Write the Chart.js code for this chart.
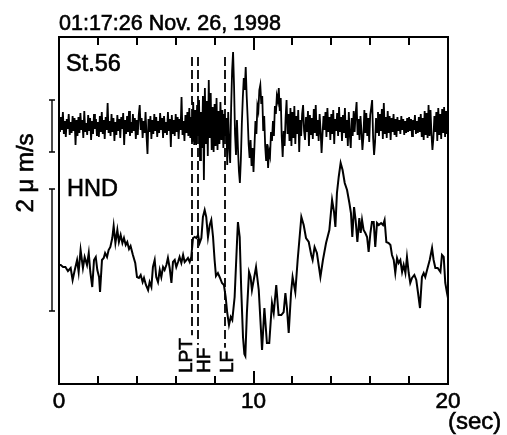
<!DOCTYPE html>
<html>
<head>
<meta charset="utf-8">
<script src="https://cdn.jsdelivr.net/npm/chart.js@4.4.0/dist/chart.umd.min.js"></script>
<style>
  html, body { margin: 0; padding: 0; background: #fff; }
  #wrap { width: 507px; height: 435px; }
</style>
</head>
<body>
<div id="wrap"><canvas id="seis"></canvas></div>
<script>
// St.56 velocity record, one sample every 0.05 s (counts, up = positive)
const st56Step = 0.05;
const st56 = [
  2,-6,9,-4,14,-8,5,-11,7,-3,12,-9,4,-7,10,-5,8,-19,6,-10,
  9,-7,13,-4,6,-12,15,-6,3,-9,11,-5,8,-14,5,-8,12,-3,7,-10,
  4,-11,10,-6,14,-8,6,-13,9,-4,23,-7,5,-10,12,-6,8,-15,4,-9,
  11,-5,7,-12,9,-3,13,-19,6,-8,10,-6,15,-10,4,-7,12,-5,8,-13,
  6,-9,11,21,-4,8,-12,5,-7,14,-10,-28,7,-6,10,-13,6,-8,12,-5,
  9,-11,5,-7,13,-4,8,-12,10,-6,4,-9,14,-5,7,-21,11,-8,6,-10,
  12,-6,9,-13,7,-4,29,-9,5,-15,11,-7,14,-10,18,-12,9,-16,24,-19,
  16,-19,21,-10,26,-34,14,-22,30,-54,38,-18,25,-30,46,-12,33,-24,19,-26,
  22,-20,28,-24,15,-18,24,-14,16,-22,12,-10,8,-39,14,-20,-37,18,55,74,
  40,-8,-29,6,-22,-45,-57,-34,2,28,48,36,59,30,8,-18,-32,-14,-40,-22,
  -46,-20,5,-8,20,15,36,41,22,30,-5,10,-20,-35,-18,-42,-25,-30,-6,-15,
  5,-10,20,12,30,25,38,15,28,-10,-31,-5,-20,8,26,-8,12,-15,18,-20,
  14,-12,20,-18,10,-8,16,-26,6,-10,12,21,-5,-14,9,-6,15,-20,11,-9,
  8,-13,17,-7,21,-10,6,-15,12,-5,-27,-8,10,-4,14,-11,18,-6,9,-14,
  12,-8,16,-18,7,-5,13,-10,19,-6,9,-15,11,-7,18,-12,6,-20,14,-9,
  -22,8,-10,15,-6,12,24,-9,7,-14,10,-5,-24,-11,16,-7,13,-10,8,-16,
  11,18,26,-12,-29,-16,8,-6,14,-10,12,-5,17,-13,23,-8,9,-12,15,-7,
  10,-14,8,-6,12,-9,7,-11,9,-5,6,-8,10,-4,7,-9,5,-7,8,-6,
  9,-5,7,-10,6,-4,11,-8,5,-7,9,-6,12,-11,8,-14,15,-9,13,-12,
  21,-10,16,-8,-24,-12,10,-6,14,-15,18,-9,12,-13,17,-7,19,-11,15,-8,
  10
];

// HND velocity record, read at these times (sec)
const hndTime = [
  0, 0.09, 0.21, 0.33, 0.46, 0.60, 0.70, 0.81, 0.93, 1.01,
  1.11, 1.23, 1.32, 1.44, 1.53, 1.61, 1.71, 1.80, 1.89, 1.97,
  2.06, 2.11, 2.21, 2.30, 2.37, 2.47, 2.55, 2.64, 2.74, 2.81,
  2.90, 3.00, 3.08, 3.17, 3.26, 3.34, 3.43, 3.51, 3.60, 3.68,
  3.80, 3.92, 4.01, 4.11, 4.20, 4.30, 4.37, 4.47, 4.58, 4.66,
  4.75, 4.83, 4.92, 5.00, 5.09, 5.18, 5.26, 5.35, 5.43, 5.52,
  5.60, 5.69, 5.78, 5.86, 5.95, 6.03, 6.12, 6.20, 6.29, 6.38,
  6.46, 6.55, 6.63, 6.72, 6.80, 6.89, 6.98, 7.06, 7.15, 7.23,
  7.32, 7.40, 7.49, 7.57, 7.66, 7.75, 7.83, 7.92, 8.00, 8.07,
  8.17, 8.28, 8.38, 8.48, 8.57, 8.65, 8.74, 8.83, 8.91, 9.03,
  9.15, 9.20, 9.29, 9.37, 9.46, 9.53, 9.58, 9.66, 9.77, 9.85,
  9.92, 10.13, 10.27, 10.44, 10.56, 10.69, 10.81, 10.95, 11.04, 11.17,
  11.29, 11.43, 11.55, 11.64, 11.72, 11.81, 11.93, 12.01, 12.15, 12.27,
  12.46, 12.58, 12.70, 12.84, 12.97, 13.04, 13.14, 13.26, 13.44, 13.57,
  13.73, 13.90, 14.04, 14.14, 14.21, 14.29, 14.38, 14.48, 14.58, 14.69,
  14.81, 14.93, 15.01, 15.08, 15.17, 15.25, 15.34, 15.44, 15.51, 15.58,
  15.66, 15.75, 15.84, 15.92, 16.01, 16.09, 16.18, 16.26, 16.35, 16.44,
  16.56, 16.66, 16.74, 16.83, 16.95, 17.04, 17.12, 17.21, 17.29, 17.38,
  17.46, 17.55, 17.64, 17.72, 17.81, 17.89, 17.98, 18.06, 18.15, 18.27,
  18.37, 18.46, 18.56, 18.66, 18.75, 18.83, 18.95, 19.06, 19.18, 19.26,
  19.35, 19.47, 19.61, 19.69, 19.78, 19.86, 19.95, 20.00
];
const hndValue = [
  3, 3, 1, 1, -3, 0, -12, -2, 8, -4,
  18, 0, 11, 3, 15, -4, -19, 8, 11, -2,
  -9, -24, 8, 10, 15, 11, 18, 21, 30, 42,
  25, 38, 26, 33, 25, 30, 23, 26, 19, 22,
  13, 5, -9, -10, -7, -14, -10, -17, -22, -14,
  -19, 1, 8, -9, -14, -2, -9, 1, -2, 3,
  10, 0, -15, 6, 8, 1, 6, 11, 5, 13,
  6, 8, 10, 6, 11, 30, 31, 30, 33, 25,
  30, 51, 58, 51, 31, 43, 48, 31, 8, -8,
  -5, -10, -15, -17, -29, -45, -57, -49, -52, -29,
  25, 46, 31, -22, -69, -86, -88, -45, -4, -9,
  -22, 1, -22, -82, -40, -75, -75, -35, -45, -17,
  -47, -47, -44, -25, -40, -65, -25, -9, -24, 8,
  51, 43, 30, 26, 13, 8, 21, 15, -9, 8,
  25, 38, 68, 56, 41, 75, 91, 105, 98, 85,
  78, 65, 55, 31, 61, 48, 26, 50, 35, 48,
  38, 35, 31, 16, 35, 46, 46, 21, 45, 43,
  45, 43, 48, 26, 25, 23, 13, 8, -5, 10,
  5, 8, -4, 3, -5, 11, -5, -15, -10, -7,
  -12, -25, -40, -9, -5, -9, 0, 8, 20, 8,
  0, 0, -4, 13, 11, -15, -25, -30
];

// phase picks (sec)
const pickNames = ["LPT", "HF", "LF"];
const pickTimes = [6.86, 7.17, 8.51];

// 2 um/s scale bars, in each trace's counts (low, high)
const st56Bar = [-26, 26];
const hndBar = [-43, 79];

// layout of the two traces on the hidden y axis
const st56Base = 258;
const hndBase = 116;
const FONT = "'Liberation Sans', Arial, sans-serif";

const st56Pts = st56.map((v, i) => ({ x: +(i * st56Step).toFixed(2), y: v + st56Base }));
const hndPts = hndTime.map((t, i) => ({ x: t, y: hndValue[i] + hndBase }));

// text with a thin outline so it reads as heavy as the scanned figure
function txt(ctx, s, x, y, size, align, rot) {
  ctx.save();
  ctx.translate(x, y);
  if (rot) ctx.rotate(rot);
  ctx.font = size + "px " + FONT;
  ctx.fillStyle = "#000";
  ctx.strokeStyle = "#000";
  ctx.lineWidth = 0.6;
  ctx.textAlign = align || "left";
  ctx.textBaseline = "alphabetic";
  ctx.fillText(s, 0, 0);
  ctx.strokeText(s, 0, 0);
  ctx.restore();
}

const decor = {
  id: "decor",
  beforeDatasetsDraw(chart) {
    const { ctx, scales: { x, y } } = chart;
    ctx.save();
    ctx.strokeStyle = "#000";
    ctx.lineWidth = 1.8;
    ctx.setLineDash([9, 4]);
    const labelOff = [0, 12, 8];
    ctx.font = "19px " + FONT;
    pickTimes.forEach((t, i) => {
      const px = Math.round(x.getPixelForValue(t));
      const labelLen = ctx.measureText(pickNames[i]).width;
      const yBottom = y.getPixelForValue(11);
      ctx.beginPath();
      ctx.moveTo(px, y.getPixelForValue(327));
      ctx.lineTo(px, yBottom - labelLen - 3);
      ctx.stroke();
    });
    ctx.restore();
    pickTimes.forEach((t, i) => {
      const px = x.getPixelForValue(t);
      txt(ctx, pickNames[i], px + labelOff[i], y.getPixelForValue(11), 19, "left", -Math.PI / 2);
    });
  },
  afterDraw(chart) {
    const { ctx, chartArea: a, scales: { x, y } } = chart;
    ctx.save();
    ctx.strokeStyle = "#000";
    ctx.lineWidth = 2;
    ctx.strokeRect(a.left, a.top, a.right - a.left, a.bottom - a.top);
    // inward ticks every 2 sec, longer at 10
    for (let t = 2; t < 20; t += 2) {
      const px = Math.round(x.getPixelForValue(t));
      const len = t % 10 === 0 ? 13 : 8;
      ctx.beginPath();
      ctx.moveTo(px, a.top); ctx.lineTo(px, a.top + len);
      ctx.moveTo(px, a.bottom); ctx.lineTo(px, a.bottom - len);
      ctx.stroke();
    }
    // scale bars
    ctx.lineWidth = 1.4;
    const bx = a.left - 7;
    [[st56Bar, st56Base], [hndBar, hndBase]].forEach(([bar, base]) => {
      const y0 = y.getPixelForValue(bar[0] + base);
      const y1 = y.getPixelForValue(bar[1] + base);
      ctx.beginPath();
      ctx.moveTo(bx, y0); ctx.lineTo(bx, y1);
      ctx.moveTo(bx - 3, y0); ctx.lineTo(bx + 3, y0);
      ctx.moveTo(bx - 3, y1); ctx.lineTo(bx + 3, y1);
      ctx.stroke();
    });
    ctx.restore();

    txt(ctx, "01:17:26 Nov. 26, 1998", a.left, 30, 21.5, "left");
    txt(ctx, "St.56", a.left + 7, 71, 23.5, "left");
    txt(ctx, "HND", a.left + 8, 196, 23.5, "left");
    txt(ctx, "2 \u03bc m/s", 33, 173, 24, "center", -Math.PI / 2);
    txt(ctx, "(sec)", a.right, 429, 24, "left");
  }
};

new Chart(document.getElementById("seis"), {
  type: "line",
  data: {
    datasets: [
      { label: "St.56", data: st56Pts, borderColor: "#000", borderWidth: 1.8 },
      { label: "HND", data: hndPts, borderColor: "#000", borderWidth: 2 }
    ]
  },
  options: {
    responsive: true,
    maintainAspectRatio: false,
    animation: false,
    events: [],
    layout: { padding: { left: 59, right: 59, top: 37, bottom: 0 } },
    elements: { point: { radius: 0 }, line: { tension: 0 } },
    plugins: { legend: { display: false }, tooltip: { enabled: false } },
    scales: {
      x: {
        type: "linear",
        min: 0,
        max: 20,
        grid: { display: false, drawTicks: false },
        border: { display: false },
        ticks: {
          stepSize: 10,
          autoSkip: false,
          maxRotation: 0,
          padding: 4,
          color: "#000",
          textStrokeColor: "#000",
          textStrokeWidth: 0.6,
          font: { family: FONT, size: 22.5 }
        },
        afterFit(scale) { scale.height = 51; }
      },
      y: { display: false, min: 0, max: 347 }
    }
  },
  plugins: [decor]
});
</script>
</body>
</html>
